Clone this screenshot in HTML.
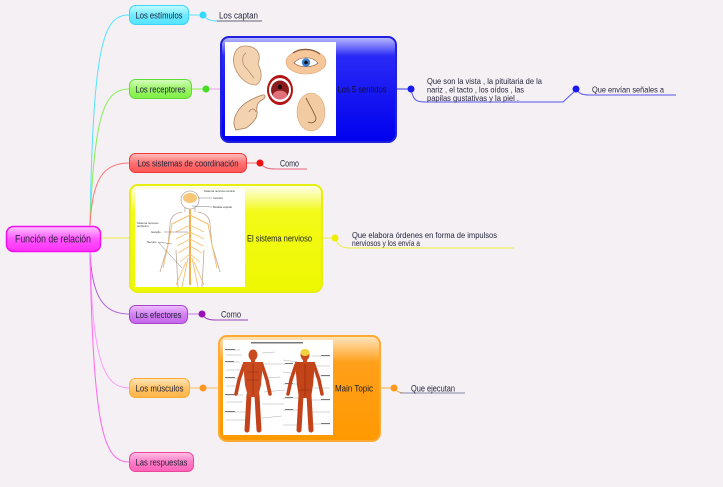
<!DOCTYPE html>
<html><head><meta charset="utf-8"><style>
html,body{margin:0;padding:0;background:#f4f0f4;}
svg{display:block;font-family:"Liberation Sans",Arial,sans-serif;}
</style></head><body>
<svg width="723" height="487" viewBox="0 0 723 487" xmlns="http://www.w3.org/2000/svg">
<defs>
<linearGradient id="gC" x1="0" y1="0" x2="0" y2="1"><stop offset="0" stop-color="#ffc8ff"/><stop offset=".5" stop-color="#ff55ff"/><stop offset="1" stop-color="#ff30f5"/></linearGradient>
<linearGradient id="gCy" x1="0" y1="0" x2="0" y2="1"><stop offset="0" stop-color="#c8fbff"/><stop offset=".5" stop-color="#70ecff"/><stop offset="1" stop-color="#55e2ff"/></linearGradient>
<linearGradient id="gG" x1="0" y1="0" x2="0" y2="1"><stop offset="0" stop-color="#d8ffc0"/><stop offset=".5" stop-color="#99f566"/><stop offset="1" stop-color="#80ee44"/></linearGradient>
<linearGradient id="gR" x1="0" y1="0" x2="0" y2="1"><stop offset="0" stop-color="#ffc0c0"/><stop offset=".5" stop-color="#ff7070"/><stop offset="1" stop-color="#ff5555"/></linearGradient>
<linearGradient id="gP" x1="0" y1="0" x2="0" y2="1"><stop offset="0" stop-color="#eec0ff"/><stop offset=".5" stop-color="#d280f2"/><stop offset="1" stop-color="#c466ea"/></linearGradient>
<linearGradient id="gO" x1="0" y1="0" x2="0" y2="1"><stop offset="0" stop-color="#ffe6bb"/><stop offset=".5" stop-color="#ffc466"/><stop offset="1" stop-color="#ffb548"/></linearGradient>
<linearGradient id="gK" x1="0" y1="0" x2="0" y2="1"><stop offset="0" stop-color="#ffc0e6"/><stop offset=".5" stop-color="#ff7cc6"/><stop offset="1" stop-color="#ff62b8"/></linearGradient>
<linearGradient id="gB" x1="0" y1="0" x2="0" y2="1"><stop offset="0" stop-color="#c0c0ff"/><stop offset=".18" stop-color="#2a2af6"/><stop offset="1" stop-color="#0000ee"/></linearGradient>
<linearGradient id="gY" x1="0" y1="0" x2="0" y2="1"><stop offset="0" stop-color="#fffff2"/><stop offset=".25" stop-color="#f3fa18"/><stop offset="1" stop-color="#eef800"/></linearGradient>
<linearGradient id="gOr" x1="0" y1="0" x2="0" y2="1"><stop offset="0" stop-color="#ffe6c0"/><stop offset=".25" stop-color="#ffa01a"/><stop offset="1" stop-color="#ff9900"/></linearGradient>
</defs>

<!-- main connectors -->
<g fill="none" stroke-width="1">
<path d="M90,226 C93,40 104,15 129,15" stroke="#55e4ff"/>
<path d="M90,226 C94,112 105,89 129,89" stroke="#88ee55"/>
<path d="M90,226 C92,178 104,163 129,163" stroke="#ff7777"/>
<path d="M101,238 L129,238" stroke="#eeee44"/>
<path d="M90,252 C92,298 104,314 129,314" stroke="#b060d8"/>
<path d="M90,252 C92,360 104,388 129,388" stroke="#ff99ff"/>
<path d="M90,252 C93,430 104,462 129,462" stroke="#ff66ee"/>
</g>

<!-- secondary connectors -->
<g fill="none" stroke-width="1">
<path d="M189,15 L203,15" stroke="#55e4ff"/>
<path d="M203,15 C207,20 211,21 218,21" stroke="#55e4ff"/>
<path d="M217,21 L262,21" stroke="#666677"/>
<path d="M192,89 L206,89" stroke="#88ee55"/>
<path d="M206,89 L220,89" stroke="#f0a0f0"/>
<path d="M397,89 L411,89" stroke="#3333ee"/>
<path d="M411,89 C413,100 416,102 425,102 L563,102 L576,90" stroke="#5555ee"/>
<path d="M576,89 C579,94 583,95 590,95 L676,95" stroke="#5555ee"/>
<path d="M247,163 L260,163" stroke="#ff6666"/>
<path d="M260,163 C264,168 268,169 276,169 L307,169" stroke="#ee6677"/>
<path d="M323,238 L335,238" stroke="#eeee44"/>
<path d="M335,238 C338,246 342,248 350,248 L514,248" stroke="#eeee33"/>
<path d="M188,314 L202,314" stroke="#cc77ee"/>
<path d="M202,314 C205,319 209,320 216,320 L248,320" stroke="#9944bb"/>
<path d="M190,388 L218,388" stroke="#ffbb55"/>
<path d="M381,388 L394,388" stroke="#ffaa33"/>
<path d="M394,388 C397,392 400,393 406,393" stroke="#ffaa33"/>
<path d="M400,393 L465,393" stroke="#8888aa"/>
</g>

<!-- dots -->
<circle cx="203" cy="15" r="3.5" fill="#33d8ff"/>
<circle cx="206" cy="89" r="3.5" fill="#44dd22"/>
<circle cx="411" cy="89" r="3.5" fill="#1a1aee"/>
<circle cx="576" cy="89" r="3.5" fill="#1a1aee"/>
<circle cx="260" cy="163" r="3.5" fill="#ee1111"/>
<circle cx="335" cy="238" r="3.5" fill="#eeee00"/>
<circle cx="202" cy="314" r="3.5" fill="#9911bb"/>
<circle cx="203" cy="388" r="3.5" fill="#ff9922"/>
<circle cx="394" cy="388" r="3.5" fill="#ff9922"/>

<!-- central node -->
<rect x="6.5" y="226.5" width="94" height="25" rx="7" fill="url(#gC)" stroke="#ee10ee" stroke-width="1.5"/>
<text x="53" y="242.5" font-size="11" text-anchor="middle" fill="#33223f" textLength="76" lengthAdjust="spacingAndGlyphs">Función de relación</text>

<!-- level-1 nodes -->
<g font-size="9.2" fill="#24243a" text-anchor="middle">
<rect x="129.5" y="5.5" width="59" height="19" rx="6" fill="url(#gCy)" stroke="#3ad6f4"/>
<text x="159" y="18.3" textLength="47" lengthAdjust="spacingAndGlyphs">Los estímulos</text>
<rect x="129.5" y="79.5" width="62" height="19" rx="6" fill="url(#gG)" stroke="#5cdd33"/>
<text x="160.5" y="92.3" textLength="50" lengthAdjust="spacingAndGlyphs">Los receptores</text>
<rect x="129.5" y="153.5" width="117" height="19" rx="6" fill="url(#gR)" stroke="#ee3838"/>
<text x="188" y="166.3" textLength="101" lengthAdjust="spacingAndGlyphs">Los sistemas de coordinación</text>
<rect x="129.5" y="305.5" width="58" height="18" rx="6" fill="url(#gP)" stroke="#a844cc"/>
<text x="158.5" y="317.8" textLength="46" lengthAdjust="spacingAndGlyphs">Los efectores</text>
<rect x="129.5" y="378.5" width="60" height="19" rx="6" fill="url(#gO)" stroke="#ffaa33"/>
<text x="159.5" y="391.3" textLength="48" lengthAdjust="spacingAndGlyphs">Los músculos</text>
<rect x="129.5" y="452.5" width="64" height="19" rx="6" fill="url(#gK)" stroke="#ee4499"/>
<text x="161.5" y="465.3" textLength="52" lengthAdjust="spacingAndGlyphs">Las respuestas</text>
</g>

<!-- blue box -->
<rect x="221" y="37" width="175" height="105" rx="8" fill="url(#gB)" stroke="#2020dd" stroke-width="2"/>
<rect x="225" y="42" width="111" height="94" fill="#ffffff"/>
<!-- ear -->
<path d="M245,46 C235,46 231,58 235,68 C239,78 247,85 256,85 C263,81 262,72 258,64 C262,53 256,46 245,46 Z" fill="#f3d2b0" stroke="#b88a66" stroke-width="0.8"/>
<path d="M246,53 C241,56 242,64 246,68 C250,72 252,76 254,78" fill="none" stroke="#b88a66" stroke-width="0.8"/>
<!-- eye -->
<ellipse cx="306" cy="62" rx="20" ry="12" fill="#f5c79a" stroke="#d9a272" stroke-width="0.6"/>
<path d="M293,53 C300,48 312,48 320,54" fill="none" stroke="#8a5a3a" stroke-width="1.2"/>
<path d="M294,63 C300,56 312,56 318,63 C312,68 300,68 294,63 Z" fill="#ffffff" stroke="#7a5a4a" stroke-width="0.6"/>
<circle cx="306" cy="62.5" r="4.2" fill="#3d7dd0"/>
<circle cx="306" cy="62.5" r="1.8" fill="#111"/>
<!-- mouth -->
<ellipse cx="280" cy="90" rx="13" ry="15" fill="#b51414"/>
<ellipse cx="280" cy="90" rx="11" ry="12" fill="#ffffff"/>
<ellipse cx="280" cy="90" rx="9" ry="9.5" fill="#8a1c1c"/>
<ellipse cx="280" cy="95" rx="7" ry="4.5" fill="#e0707a"/>
<ellipse cx="280" cy="87" rx="2" ry="2.5" fill="#1a0a0a"/>
<!-- hand -->
<path d="M236,130 C231,122 236,112 242,106 C247,101 254,98 262,95 C266,94 266,98 262,100 C258,102 256,106 257,112 C258,118 252,124 246,128 Z" fill="#f3d2b0" stroke="#a67c5a" stroke-width="0.8"/>
<path d="M249,112 C251,108 255,108 256,112" fill="none" stroke="#a67c5a" stroke-width="0.7"/>
<!-- nose -->
<ellipse cx="311" cy="112" rx="14" ry="19" fill="#f3cba3" stroke="#d9a77a" stroke-width="0.6"/>
<path d="M306,98 C310,106 314,112 316,118 C316,122 312,124 308,122" fill="none" stroke="#8a5a3a" stroke-width="0.9"/>
<text x="362" y="92.3" font-size="9" text-anchor="middle" fill="#101028" textLength="49" lengthAdjust="spacingAndGlyphs">Los 5 sentidos</text>

<!-- blue text -->
<g font-size="8.6" fill="#26263c">
<text x="427" y="83.8" textLength="115" lengthAdjust="spacingAndGlyphs">Que son la vista , la pituitaria de la</text>
<text x="427" y="92.5" textLength="97" lengthAdjust="spacingAndGlyphs">nariz , el tacto , los oídos , las</text>
<text x="427" y="101.2" textLength="92" lengthAdjust="spacingAndGlyphs">papilas gustativas y la piel .</text>
<text x="592" y="92.3" textLength="72" lengthAdjust="spacingAndGlyphs">Que envían señales a</text>
</g>

<!-- red child -->
<text x="280" y="166.3" font-size="9" fill="#26263c" textLength="19" lengthAdjust="spacingAndGlyphs">Como</text>

<!-- yellow box -->
<rect x="130" y="185" width="192" height="107" rx="8" fill="url(#gY)" stroke="#e8ee10" stroke-width="2"/>
<rect x="135" y="189" width="110" height="98" fill="#ffffff"/>
<g fill="none">
<path d="M182,212 C176,213 170,216 170,225 L168,245 L162,265 L160,272 M198,212 C204,213 210,216 210,225 L212,245 L218,265 L220,272" stroke="#bcaaa0" stroke-width="0.8"/>
<path d="M176,250 L178,287 M204,250 L202,287" stroke="#bcaaa0" stroke-width="0.8"/>
<path d="M185,207 L185,212 M195,207 L195,212" stroke="#bcaaa0" stroke-width="0.8"/>
<path d="M190,208 L190,285" stroke="#f0b050" stroke-width="2"/>
<path d="M190,215 L172,224 L168,245 L163,268 M190,215 L208,224 L212,245 L217,268" stroke="#f5c070" stroke-width="1"/>
<path d="M190,225 L176,232 M190,225 L204,232 M190,232 L176,239 M190,232 L204,239 M190,239 L177,246 M190,239 L203,246 M190,246 L178,253 M190,246 L202,253 M190,254 L180,262 M190,254 L200,262" stroke="#f5c070" stroke-width="0.8"/>
<path d="M188,258 L182,287 M192,258 L198,287 M186,262 L176,285 M194,262 L204,285" stroke="#f5c070" stroke-width="0.9"/>
</g>
<circle cx="190" cy="200" r="9" fill="#ffffff" stroke="#bcaaa0" stroke-width="0.8"/>
<ellipse cx="190" cy="198" rx="7" ry="5" fill="#f6c878"/>
<g stroke="#555" stroke-width="0.4">
<line x1="198" y1="198" x2="212" y2="198"/>
<line x1="192" y1="206" x2="212" y2="207"/>
<line x1="164" y1="232" x2="188" y2="232"/>
<line x1="158" y1="242" x2="172" y2="244"/>
<line x1="158" y1="242" x2="182" y2="268"/>
</g>
<g font-size="2.8" fill="#333">
<text x="204" y="192">Sistema nervioso central</text>
<text x="213" y="199">Cerebro</text>
<text x="213" y="208">Médula espinal</text>
<text x="137" y="224">Sistema nervioso</text>
<text x="137" y="227">periférico</text>
<text x="151" y="233">Ganglio</text>
<text x="147" y="243">Nervios</text>
</g>
<text x="279.5" y="241.3" font-size="9" text-anchor="middle" fill="#1c1c2a" textLength="65" lengthAdjust="spacingAndGlyphs">El sistema nervioso</text>

<g font-size="8.6" fill="#26263c">
<text x="352" y="237.8" textLength="145" lengthAdjust="spacingAndGlyphs">Que elabora órdenes en forma de impulsos</text>
<text x="352" y="245.8" textLength="68" lengthAdjust="spacingAndGlyphs">nerviosos y los envía a</text>
</g>

<!-- purple child -->
<text x="221" y="317.3" font-size="9" fill="#26263c" textLength="20" lengthAdjust="spacingAndGlyphs">Como</text>

<!-- orange box -->
<rect x="219" y="336" width="161" height="105" rx="8" fill="url(#gOr)" stroke="#ffaa33" stroke-width="2"/>
<rect x="223" y="340" width="110" height="95" fill="#ffffff"/>
<g stroke="#888" stroke-width="0.35">
<line x1="226" y1="350" x2="240" y2="350"/><line x1="226" y1="355" x2="242" y2="355"/><line x1="226" y1="362" x2="240" y2="362"/><line x1="226" y1="370" x2="242" y2="370"/><line x1="226" y1="378" x2="240" y2="378"/><line x1="226" y1="386" x2="238" y2="386"/><line x1="226" y1="395" x2="243" y2="395"/><line x1="226" y1="402" x2="243" y2="402"/><line x1="226" y1="412" x2="246" y2="412"/><line x1="226" y1="420" x2="246" y2="420"/>
<line x1="262" y1="353" x2="275" y2="352"/><line x1="262" y1="364" x2="285" y2="364"/><line x1="265" y1="378" x2="280" y2="377"/><line x1="264" y1="392" x2="285" y2="390"/><line x1="262" y1="404" x2="284" y2="404"/><line x1="262" y1="418" x2="282" y2="416"/>
<line x1="283" y1="360" x2="298" y2="362"/><line x1="283" y1="372" x2="298" y2="374"/><line x1="283" y1="384" x2="297" y2="384"/><line x1="283" y1="398" x2="298" y2="398"/><line x1="283" y1="410" x2="300" y2="410"/><line x1="283" y1="425" x2="300" y2="425"/>
<line x1="312" y1="356" x2="330" y2="356"/><line x1="313" y1="366" x2="330" y2="366"/><line x1="314" y1="376" x2="330" y2="376"/><line x1="314" y1="388" x2="330" y2="388"/><line x1="312" y1="400" x2="330" y2="400"/><line x1="310" y1="412" x2="330" y2="412"/><line x1="310" y1="424" x2="330" y2="424"/>
</g>
<g fill="#777">
<rect x="251" y="342" width="52" height="1.5"/>
<rect x="225" y="349" width="10" height="1"/><rect x="225" y="361" width="9" height="1"/><rect x="225" y="377" width="10" height="1"/><rect x="225" y="394" width="10" height="1"/><rect x="225" y="411" width="10" height="1"/>
<rect x="285" y="363" width="8" height="1"/><rect x="285" y="383" width="8" height="1"/><rect x="285" y="397" width="8" height="1"/><rect x="285" y="409" width="8" height="1"/>
<rect x="321" y="355" width="9" height="1"/><rect x="321" y="375" width="9" height="1"/><rect x="321" y="399" width="9" height="1"/><rect x="321" y="423" width="9" height="1"/>
</g>
<!-- front figure -->
<g stroke="#c4421a" stroke-linecap="round" fill="none">
<path d="M244,365 L239,380 L236,394" stroke-width="3.5"/>
<path d="M262,365 L267,380 L270,394" stroke-width="3.5"/>
<path d="M249,395 L248,413 L247,430" stroke-width="5"/>
<path d="M257,395 L258,413 L259,430" stroke-width="5"/>
</g>
<path d="M243,362 L263,362 L261,385 L258,397 L248,397 L245,385 Z" fill="#c84a1e"/>
<path d="M253,364 L253,395 M247,372 L259,372 M247,380 L259,380" stroke="#902a10" stroke-width="0.6" fill="none"/>
<ellipse cx="253" cy="355" rx="4.5" ry="5.5" fill="#c84a1e"/>
<rect x="251" y="359" width="4" height="4" fill="#c84a1e"/>
<!-- back figure -->
<g stroke="#c4421a" stroke-linecap="round" fill="none">
<path d="M296,365 L291,380 L288,394" stroke-width="3.5"/>
<path d="M314,365 L319,380 L322,394" stroke-width="3.5"/>
<path d="M301,395 L300,413 L299,430" stroke-width="5"/>
<path d="M309,395 L310,413 L311,430" stroke-width="5"/>
</g>
<path d="M295,362 L315,362 L313,385 L311,398 L299,398 L297,385 Z" fill="#c24418"/>
<path d="M305,364 L305,396 M299,390 L311,390" stroke="#902a10" stroke-width="0.6" fill="none"/>
<ellipse cx="305" cy="355" rx="4.5" ry="5.5" fill="#c84a1e"/>
<ellipse cx="305" cy="352.5" rx="4.5" ry="3.5" fill="#f2d23a"/>
<rect x="303" y="359" width="4" height="4" fill="#c84a1e"/>
<text x="354" y="391.3" font-size="9" text-anchor="middle" fill="#1c1c2a" textLength="38" lengthAdjust="spacingAndGlyphs">Main Topic</text>

<text x="411" y="391.3" font-size="9" fill="#26263c" textLength="44" lengthAdjust="spacingAndGlyphs">Que ejecutan</text>

<!-- cyan child -->
<text x="219" y="18.3" font-size="9" fill="#26263c" textLength="39" lengthAdjust="spacingAndGlyphs">Los captan</text>
</svg>
</body></html>
